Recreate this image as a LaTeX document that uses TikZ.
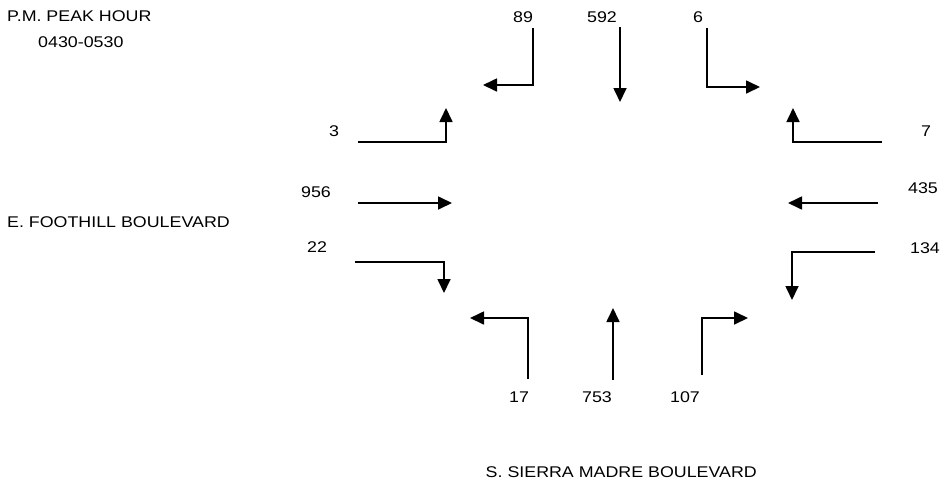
\documentclass[tikz,border=0pt]{standalone}
\usepackage{fontspec}
\setmainfont{Liberation Sans}[FakeStretch=1.15]
\usetikzlibrary{arrows.meta}
\begin{document}
\begin{tikzpicture}[x=1pt,y=-1pt,
  flow/.style={line width=1.7pt, -{Triangle[length=14pt,width=13pt]}},
  vol/.style={font=\fontsize{15.5}{18}\selectfont, inner sep=0pt},
  caption/.style={font=\fontsize{15.5}{18}\selectfont, inner sep=0pt}]
\useasboundingbox (0,0) rectangle (941,491);

% titles and street names
\node[caption, anchor=west] (peak) at (7,16) {P.M. PEAK HOUR};
\node[caption, anchor=west] (period) at (38,42) {0430-0530};
\node[caption, anchor=west] (eastwest) at (7,222) {E. FOOTHILL BOULEVARD};
\node[caption, anchor=east] (northsouth) at (757,472) {S. SIERRA MADRE BOULEVARD};

% southbound approach (top)
\node[vol] (v89) at (523,17) {89};
\node[vol] (v592) at (602,17) {592};
\node[vol] (v6) at (698,17) {6};
\coordinate (s89) at (533,28);  \coordinate (t89) at (483,85);
\coordinate (s592) at (620,27); \coordinate (t592) at (620,102);
\coordinate (s6) at (707,28);   \coordinate (t6) at (760,87);
\draw[flow] (s89) |- (t89);
\draw[flow] (s592) -- (t592);
\draw[flow] (s6) |- (t6);

% eastbound approach (left)
\node[vol] (v3) at (334,131) {3};
\node[vol] (v956) at (316,192) {956};
\node[vol] (v22) at (317,247) {22};
\coordinate (s3) at (358,142);   \coordinate (t3) at (446,108);
\coordinate (s956) at (358,203); \coordinate (t956) at (452,203);
\coordinate (s22) at (355,262);  \coordinate (t22) at (444,293);
\draw[flow] (s3) -| (t3);
\draw[flow] (s956) -- (t956);
\draw[flow] (s22) -| (t22);

% westbound approach (right)
\node[vol] (v7) at (926,131) {7};
\node[vol] (v435) at (923,188) {435};
\node[vol] (v134) at (925,248) {134};
\coordinate (s7) at (882,142);   \coordinate (t7) at (793,108);
\coordinate (s435) at (878,203); \coordinate (t435) at (788,203);
\coordinate (s134) at (875,252); \coordinate (t134) at (792,300);
\draw[flow] (s7) -| (t7);
\draw[flow] (s435) -- (t435);
\draw[flow] (s134) -| (t134);

% northbound approach (bottom)
\node[vol] (v17) at (519,397) {17};
\node[vol] (v753) at (597,397) {753};
\node[vol] (v107) at (685,397) {107};
\coordinate (s17) at (528,379);  \coordinate (t17) at (470,318);
\coordinate (s753) at (613,380); \coordinate (t753) at (613,308);
\coordinate (s107) at (702,375); \coordinate (t107) at (748,318);
\draw[flow] (s17) |- (t17);
\draw[flow] (s753) -- (t753);
\draw[flow] (s107) |- (t107);
\end{tikzpicture}
\end{document}
